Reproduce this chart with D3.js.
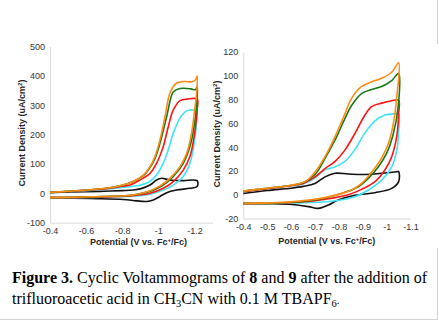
<!DOCTYPE html>
<html>
<head>
<meta charset="utf-8">
<script src="https://cdn.jsdelivr.net/npm/d3@7"></script>
<style>
  body { margin: 0; background: #fff; }
  svg { display: block; }
</style>
</head>
<body>
<script>
// dimensions of the page
var w = 439, h = 320;

// tick values of the two charts
const leftXTicks = [-0.4, -0.6, -0.8, -1, -1.2];
const leftYTicks = [-100, 0, 100, 200, 300, 400, 500];
const rightXTicks = [-0.4, -0.5, -0.6, -0.7, -0.8, -0.9, -1, -1.1];
const rightYTicks = [-20, 0, 20, 40, 60, 80, 100, 120];

// series colours (same order for both charts)
const seriesNames = ["black", "cyan", "red", "green", "orange"];
const seriesColors = ["#111111", "#3fe3f7", "#ff1414", "#167a16", "#ff8c12"];

// compound 8 : [potential V vs Fc+/Fc, current density uA/cm2], forward scan then return
const leftBlack = [[-0.4,2],[-0.5,4],[-0.6,5],[-0.7,7],[-0.8,9],[-0.86,11],[-0.9,15],[-0.954,28],[-0.99,45],[-1.018,51],[-1.064,45],[-1.138,43],[-1.215,43],
  [-1.215,23],[-1.175,17],[-1.101,11],[-1.046,2],[-1.009,-11],[-0.972,-23],[-0.935,-28],[-0.88,-26],[-0.806,-21],[-0.62,-18],[-0.4,-15]];
const leftCyan = [[-0.4,3],[-0.5,6],[-0.6,9],[-0.7,14],[-0.8,20],[-0.897,27],[-0.954,40],[-0.99,62],[-1.027,102],[-1.055,148],[-1.083,205],[-1.12,256],[-1.15,278],[-1.176,284],[-1.2,283],[-1.215,280],
  [-1.215,273],[-1.198,170],[-1.175,102],[-1.138,57],[-1.083,28],[-1.027,11],[-0.954,-3],[-0.86,-10],[-0.62,-14],[-0.4,-16]];
const leftRed = [[-0.4,3],[-0.5,6],[-0.6,10],[-0.7,15],[-0.8,24],[-0.843,28],[-0.897,45],[-0.954,68],[-0.99,102],[-1.027,159],[-1.055,227],[-1.083,284],[-1.12,316],[-1.16,321],[-1.215,321],
  [-1.215,284],[-1.198,193],[-1.175,125],[-1.138,79],[-1.083,40],[-1.027,17],[-0.954,0],[-0.86,-8],[-0.62,-13],[-0.4,-15]];
const leftGreen = [[-0.4,3],[-0.5,7],[-0.6,11],[-0.7,16],[-0.8,27],[-0.86,40],[-0.917,60],[-0.954,88],[-0.981,118],[-1.009,170],[-1.046,261],[-1.083,345],[-1.12,357],[-1.18,356],[-1.205,353],[-1.215,362],
  [-1.212,300],[-1.198,227],[-1.175,159],[-1.138,102],[-1.083,57],[-1.027,28],[-0.965,9],[-0.86,-6],[-0.62,-12],[-0.4,-15]];
const leftOrange = [[-0.4,3],[-0.5,7],[-0.6,11],[-0.7,16],[-0.8,27],[-0.86,40],[-0.917,62],[-0.954,91],[-0.981,125],[-1.009,182],[-1.037,261],[-1.064,341],[-1.1,375],[-1.14,381],[-1.185,380],[-1.205,386],[-1.215,400],
  [-1.212,340],[-1.201,284],[-1.184,205],[-1.157,136],[-1.12,91],[-1.064,51],[-1.009,25],[-0.954,9],[-0.861,-6],[-0.62,-12],[-0.4,-15]];

// compound 9
const rightBlack = [[-0.4,1],[-0.5,3.5],[-0.6,5.5],[-0.65,7],[-0.7,9.5],[-0.742,15],[-0.784,18],[-0.84,17.4],[-0.91,17],[-0.98,18],[-1.042,19.3],[-1.05,19.5],
  [-1.05,11],[-1.021,5.3],[-0.951,1.7],[-0.867,-0.5],[-0.797,-4.5],[-0.756,-8.7],[-0.714,-11.5],[-0.672,-10],[-0.588,-8],[-0.5,-7.6],[-0.4,-7.6]];
const rightCyan = [[-0.4,2.5],[-0.5,5],[-0.6,7.5],[-0.65,9],[-0.7,14],[-0.742,21],[-0.78,23],[-0.825,28],[-0.867,38],[-0.909,52],[-0.951,62],[-0.993,67],[-1.035,68],[-1.05,68],
  [-1.05,54],[-1.042,37],[-1.021,23.5],[-0.979,12.3],[-0.923,4],[-0.867,-1.7],[-0.77,-5.5],[-0.6,-7],[-0.4,-7.3]];
const rightRed = [[-0.4,2.5],[-0.5,5],[-0.6,7.5],[-0.65,9.5],[-0.7,15],[-0.742,22],[-0.784,28],[-0.825,37.5],[-0.867,51.5],[-0.909,67],[-0.937,74],[-0.979,77],[-1.021,79],[-1.05,79.5],
  [-1.05,68],[-1.042,49],[-1.021,32],[-0.993,21],[-0.951,11],[-0.895,4.5],[-0.839,0],[-0.7,-5],[-0.55,-7],[-0.4,-7.3]];
const rightGreen = [[-0.4,3],[-0.5,5.5],[-0.6,8],[-0.65,10],[-0.7,17],[-0.742,30.5],[-0.784,46],[-0.825,64],[-0.853,75],[-0.895,85],[-0.937,88.5],[-0.979,91],[-1.021,96],[-1.05,102],
  [-1.048,74],[-1.028,51.5],[-1.0,35],[-0.965,23.5],[-0.923,13.7],[-0.881,6.7],[-0.811,1],[-0.7,-4.5],[-0.55,-7],[-0.4,-7.3]];
const rightOrange = [[-0.4,3],[-0.5,5.5],[-0.6,8],[-0.658,11],[-0.7,19],[-0.742,32],[-0.784,49],[-0.825,68],[-0.853,81],[-0.895,91],[-0.937,95],[-0.979,98],[-1.021,103],[-1.05,111],
  [-1.042,82],[-1.028,60],[-1.007,43],[-0.979,31],[-0.937,19],[-0.895,9.5],[-0.853,4],[-0.75,-2],[-0.6,-6],[-0.4,-7.3]];

var svg = d3.select("body").append("svg")
  .attr("width", w)
  .attr("height", h);

// light frame of the figure
var frame = svg.append("g").attr("stroke", "#d4d4d4").attr("stroke-width", 1.2);
frame.append("line").attr("x1", 437.5).attr("x2", 437.5).attr("y1", 0).attr("y2", 44);
frame.append("line").attr("x1", 437.5).attr("x2", 437.5).attr("y1", 248).attr("y2", 320);
frame.append("line").attr("x1", 0).attr("x2", 438).attr("y1", 319.5).attr("y2", 319.5);

function fmt(d) { return String(+d.toFixed(2)); }

// draws one voltammogram panel
function drawPanel(cfg) {
  var x = d3.scaleLinear().domain(cfg.xDomain).range(cfg.xRange);
  var y = d3.scaleLinear().domain(cfg.yDomain).range(cfg.yRange);
  var g = svg.append("g");

  g.append("g")
    .attr("transform", "translate(" + cfg.xRange[0] + ",0)")
    .call(d3.axisLeft(y).tickValues(cfg.yTicks).tickSize(0).tickPadding(5).tickFormat(fmt));
  g.append("g")
    .attr("transform", "translate(0," + cfg.yRange[0] + ")")
    .call(d3.axisBottom(x).tickValues(cfg.xTicks).tickSize(0).tickPadding(5).tickFormat(fmt));
  g.selectAll(".domain").attr("stroke", "#d9d9d9").attr("stroke-width", 1);
  g.selectAll(".tick text")
    .attr("font-family", "Liberation Sans, Arial, sans-serif")
    .attr("font-size", 9)
    .attr("fill", "#333");

  var line = d3.line()
    .x(function(d) { return x(d[0]); })
    .y(function(d) { return y(d[1]); })
    .curve(d3.curveCatmullRom.alpha(0.5));

  g.selectAll("path.cv")
    .data(cfg.series)
    .enter().append("path")
    .attr("class", "cv")
    .attr("d", line)
    .attr("fill", "none")
    .attr("stroke", function(d, i) { return seriesColors[i]; })
    .attr("stroke-width", 1.6)
    .attr("stroke-linejoin", "round");

  // axis titles
  var xt = g.append("text")
    .attr("x", cfg.xTitle[0]).attr("y", cfg.xTitle[1])
    .attr("text-anchor", "middle")
    .attr("font-family", "Liberation Sans, Arial, sans-serif")
    .attr("font-size", 9).attr("font-weight", "bold").attr("fill", "#262626");
  xt.append("tspan").text("Potential (V vs. Fc");
  xt.append("tspan").attr("baseline-shift", "super").attr("font-size", 6).text("+");
  xt.append("tspan").text("/Fc)");

  var yt = g.append("text")
    .attr("transform", "translate(" + cfg.yTitle[0] + "," + cfg.yTitle[1] + ") rotate(-90)")
    .attr("text-anchor", "middle")
    .attr("font-family", "Liberation Sans, Arial, sans-serif")
    .attr("font-size", 9).attr("font-weight", "bold").attr("fill", "#262626");
  yt.append("tspan").text("Current Density (uA/cm");
  yt.append("tspan").attr("baseline-shift", "super").attr("font-size", 6).text("2");
  yt.append("tspan").text(")");
}

drawPanel({
  xDomain: [-0.4, -1.3], xRange: [50, 212.5],
  yDomain: [-100, 500], yRange: [222.6, 46.6],
  xTicks: leftXTicks, yTicks: leftYTicks,
  series: [leftBlack, leftCyan, leftRed, leftGreen, leftOrange],
  xTitle: [138.5, 245], yTitle: [25, 133]
});

drawPanel({
  xDomain: [-0.4, -1.1], xRange: [243.3, 410.6],
  yDomain: [-20, 120], yRange: [218.5, 52],
  xTicks: rightXTicks, yTicks: rightYTicks,
  series: [rightBlack, rightCyan, rightRed, rightGreen, rightOrange],
  xTitle: [326.7, 244], yTitle: [219.5, 134]
});

// caption
var cap = svg.append("g")
  .attr("font-family", "Liberation Serif, Times New Roman, serif")
  .attr("font-size", 16)
  .attr("fill", "#000");
var l1 = cap.append("text").attr("x", 12).attr("y", 283);
l1.append("tspan").attr("font-weight", "bold").text("Figure 3.");
l1.append("tspan").text(" Cyclic Voltammograms of ");
l1.append("tspan").attr("font-weight", "bold").text("8");
l1.append("tspan").text(" and ");
l1.append("tspan").attr("font-weight", "bold").text("9");
l1.append("tspan").text(" after the addition of");
var l2 = cap.append("text").attr("x", 12).attr("y", 304);
l2.append("tspan").text("trifluoroacetic acid in CH");
l2.append("tspan").attr("font-size", 10.5).attr("dy", 3).text("3");
l2.append("tspan").attr("dy", -3).text("CN with 0.1 M TBAPF");
l2.append("tspan").attr("font-size", 10.5).attr("dy", 3).text("6");
l2.append("tspan").attr("font-size", 10.5).attr("dy", -3).text(".");
</script>
</body>
</html>
